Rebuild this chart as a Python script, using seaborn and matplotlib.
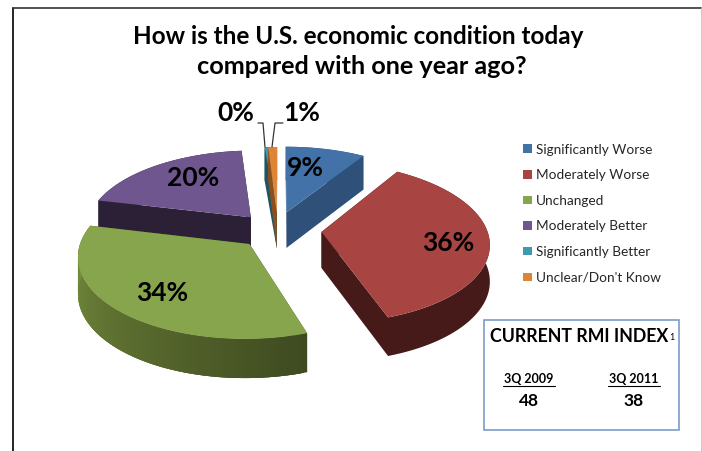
import numpy as np
import matplotlib
matplotlib.use("Agg")
import matplotlib.pyplot as plt
from matplotlib.patches import Rectangle, Patch
from matplotlib.colors import to_rgb
import seaborn as sns

# Survey responses
categories = ["Significantly Worse", "Moderately Worse", "Unchanged",
              "Moderately Better", "Significantly Better", "Unclear/Don't Know"]
shares = [9, 36, 34, 20, 0.4, 1]
share_labels = ["9%", "36%", "34%", "20%", "0%", "1%"]

# RMI index readings
rmi_periods = ["3Q 2009", "3Q 2011"]
rmi_values = [48, 38]

# Appearance of each slice
top_colors = ["#4272a8", "#a84442", "#87a54c", "#70568f", "#3f9ab0", "#de8436"]
wall_colors = ["#2f5078", "#451a18", "#3e4a20", "#2b2036", "#1e5560", "#8a5020"]
# Slice offset from the pie centre, in pie-plane units
offsets = [(0.04, 0.205), (0.25, -0.05), (-0.18, -0.20), (-0.18, 0.14), (-0.02, 0.20), (-0.02, 0.20)]
label_pos = [(305, 168), (448, 243), (162, 293), (193, 178), (236, 113), (302, 113)]
draw_order = [3, 4, 5, 0, 2, 1]

# Camera used to project the tilted pie onto the page (pixels)
CX, CY = 280.0, 228.0
SCALE_X, SCALE_Y = 165.0, 78.0
PERSPECTIVE = 0.13
DEPTH = 36.0

sns.set_theme(style="white", palette=sns.color_palette(top_colors))
plt.rcParams["font.family"] = ["Lato", "DejaVu Sans"]

fig = plt.figure(figsize=(7.02, 4.51), dpi=100)
ax = fig.add_axes([0, 0, 1, 1])
ax.set_xlim(0, 702)
ax.set_ylim(451, 0)
ax.axis("off")


def project(x, y, z=0.0):
    w = 1 + PERSPECTIVE * y
    return CX + SCALE_X * x / w, CY - SCALE_Y * y / w + DEPTH * z / np.sqrt(w)


def shade(color, factor):
    return tuple(min(1, c * factor) for c in to_rgb(color))


def draw_slice(start, stop, offset, top, wall, gradient=False):
    ox, oy = offset
    angles = np.linspace(start, stop, 120)
    rim_x = ox + np.sin(angles)
    rim_y = oy + np.cos(angles)
    # radial walls
    for a in (start, stop):
        ex, ey = ox + np.sin(a), oy + np.cos(a)
        corners = [project(ox, oy), project(ex, ey), project(ex, ey, 1), project(ox, oy, 1)]
        ax.fill(*zip(*corners), facecolor=wall, edgecolor="none")
    # curved outer wall: one band, or overlapping strips when it carries a gradient
    if gradient:
        for i in range(len(angles) - 1):
            j = min(i + 3, len(angles) - 1)
            frac = i / (len(angles) - 2)
            strip = [project(rim_x[i], rim_y[i]), project(rim_x[j], rim_y[j]),
                     project(rim_x[j], rim_y[j], 1), project(rim_x[i], rim_y[i], 1)]
            ax.fill(*zip(*strip), facecolor=shade(wall, 1.0 + 1.0 * frac), edgecolor="none")
    else:
        upper = project(rim_x, rim_y)
        lower = project(rim_x, rim_y, 1)
        ax.fill(np.r_[upper[0], lower[0][::-1]], np.r_[upper[1], lower[1][::-1]],
                facecolor=wall, edgecolor="none")
    # top face
    tx, ty = project(np.r_[ox, rim_x], np.r_[oy, rim_y])
    ax.fill(tx, ty, facecolor=top, edgecolor="none")


total = sum(shares)
edges = np.r_[0, np.cumsum(shares)] / total * 2 * np.pi
for idx in draw_order:
    draw_slice(edges[idx], edges[idx + 1], offsets[idx], top_colors[idx], wall_colors[idx],
               gradient=idx == 2)

for (lx, ly), text in zip(label_pos, share_labels):
    ax.text(lx, ly, text, ha="center", va="center", fontsize=19, fontweight="bold", color="black")

# leader lines for the two thin slices
ax.plot([258, 263, 265], [123, 123, 147], color="#333333", lw=0.9)
ax.plot([283, 275, 272], [123, 123, 147], color="#333333", lw=0.9)

# page frame
ax.plot([12.5, 12.5], [451, 7.5], color="black", lw=1.2)
ax.plot([12.5, 702], [7.5, 7.5], color="#333333", lw=1.2)
ax.plot([701.5, 701.5], [7.5, 451], color="#c0c0c0", lw=1.2)

ax.text(358, 36, "How is the U.S. economic condition today", ha="center", va="center",
        fontsize=17.5, fontweight="bold", color="black")
ax.text(362, 66, "compared with one year ago?", ha="center", va="center",
        fontsize=18.2, fontweight="bold", color="black")

handles = [Patch(facecolor=c, edgecolor="none", label=n) for c, n in zip(top_colors, categories)]
ax.legend(handles=handles, loc="upper left", bbox_to_anchor=(523 / 702, 1 - 143.5 / 451),
          frameon=False, fontsize=9.8, handlelength=0.65, handleheight=0.58,
          handletextpad=0.3, labelspacing=1.0, borderpad=0, borderaxespad=0)

# index call-out
ax.add_patch(Rectangle((483.5, 319.5), 195.5, 110, facecolor="white", edgecolor="#7c9ccb", lw=1.2))
ax.text(579, 337, "CURRENT RMI INDEX", ha="center", va="center", fontsize=12.8,
        fontweight="bold", color="black")
ax.text(672, 337, "1", ha="center", va="center", fontsize=6.5, color="black")
for cx, period, value in zip([529, 634], rmi_periods, rmi_values):
    ax.text(cx, 379, period, ha="center", va="center", fontsize=9, fontweight="bold", color="black")
    ax.plot([cx - 26, cx + 26], [386, 386], color="black", lw=0.8)
    ax.text(cx, 401, str(value), ha="center", va="center", fontsize=12.5, fontweight="bold", color="black")

fig.savefig("out.png", dpi=100, facecolor="white")
